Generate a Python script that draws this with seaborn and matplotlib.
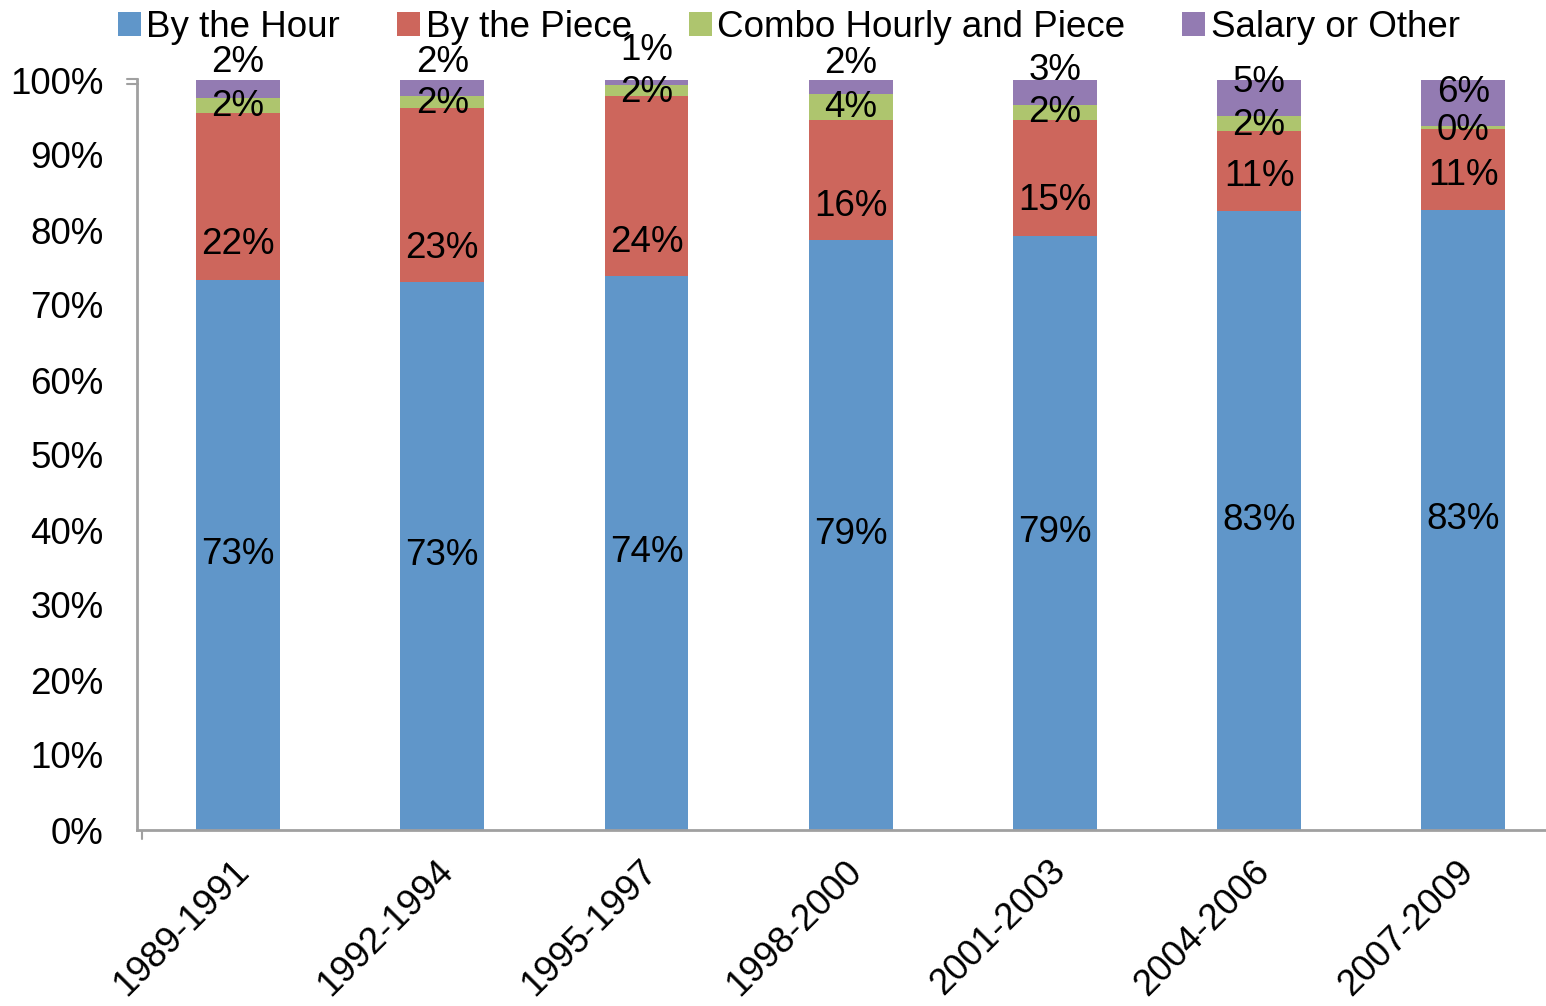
import numpy as np
import pandas as pd
import seaborn as sns
import matplotlib.pyplot as plt
import matplotlib.transforms as mtransforms
from matplotlib.patches import Patch

# dati (%)
periodi = ["1989-1991", "1992-1994", "1995-1997", "1998-2000",
           "2001-2003", "2004-2006", "2007-2009"]
by_hour = [73.4, 73.1, 73.9, 78.7, 79.2, 82.6, 82.7]
by_piece = [22.2, 23.2, 23.9, 15.9, 15.4, 10.6, 10.8]
combo = [2.0, 1.6, 1.6, 3.6, 2.1, 2.0, 0.4]
salary = [2.4, 2.1, 0.6, 1.8, 3.3, 4.8, 6.1]

serie = ["By the Hour", "By the Piece", "Combo Hourly and Piece", "Salary or Other"]
colori = ["#6096C9", "#CD665C", "#AEC56E", "#937BB2"]

# posizione verticale delle etichette (in %), come nell'originale
label_y_piece = [78.0, 77.6, 78.4, 83.2, 83.9, 87.1, 87.3]
label_y_combo = [96.5, 96.9, 98.3, 96.3, 95.6, 93.9, 93.3]
label_y_salary = [102.3, 102.4, 104.0, 102.2, 101.3, 99.6, 98.4]

df = pd.DataFrame({"Periodo": periodi, serie[0]: by_hour, serie[1]: by_piece,
                   serie[2]: combo, serie[3]: salary})
cum = df[serie].cumsum(axis=1)

sns.set_style("white")
plt.rcParams["font.family"] = ["Liberation Sans", "DejaVu Sans"]
plt.rcParams["text.color"] = "black"
plt.rcParams["xtick.color"] = "black"
plt.rcParams["ytick.color"] = "black"

FS = 26.5

fig = plt.figure(figsize=(15.46, 10.06), dpi=100)
ax = fig.add_axes([137 / 1546, 176 / 1006, 1 - 137 / 1546, 750 / 1006])

# barre impilate: dalla cumulata più alta alla più bassa
for s, c in zip(serie[::-1], colori[::-1]):
    sns.barplot(x=df["Periodo"], y=cum[s], color=c, width=0.41,
                saturation=1, ax=ax, linewidth=0)

ax.set_xlim(-0.495, 6.405)
ax.set_ylim(0, 100)
ax.set_yticks(np.arange(0, 101, 10))
ax.set_yticklabels([f"{v}%" for v in range(0, 101, 10)], fontsize=FS)
ax.tick_params(axis="y", length=0, pad=24)
ax.tick_params(axis="x", length=0, pad=17)
ax.set_xticks(range(len(periodi)))
ax.set_xticklabels(periodi, fontsize=FS, rotation=45, ha="right",
                   rotation_mode="anchor")
shift = mtransforms.ScaledTranslation(-7 / 100, 0, fig.dpi_scale_trans)
for lab in ax.get_xticklabels():
    lab.set_transform(lab.get_transform() + shift)
ax.set_xlabel("")
ax.set_ylabel("")

for sp in ["top", "right"]:
    ax.spines[sp].set_visible(False)
for sp in ["left", "bottom"]:
    ax.spines[sp].set_color("#A0A0A0")
    ax.spines[sp].set_linewidth(2)

# piccolo segno di interruzione asse
ax.plot([-0.545, -0.49], [100.1, 100.1], color="#A0A0A0", lw=1.5, clip_on=False)
ax.plot([-0.545, -0.49], [99.5, 99.5], color="#A0A0A0", lw=1.5, clip_on=False)
ax.plot([-0.47, -0.47], [-0.1, -1.2], color="#A0A0A0", lw=1.5, clip_on=False)

# etichette valori
for i in range(len(periodi)):
    kw = dict(ha="center", va="center", fontsize=FS, color="black", clip_on=False)
    ax.text(i, by_hour[i] / 2, f"{by_hour[i]:.0f}%", **kw)
    ax.text(i, label_y_piece[i], f"{by_piece[i]:.0f}%", **kw)
    ax.text(i, label_y_combo[i], f"{combo[i]:.0f}%", **kw)
    ax.text(i, label_y_salary[i], f"{salary[i]:.0f}%", **kw)

handles = [Patch(facecolor=c, edgecolor="none") for c in colori]
fig.legend(handles, serie, loc="upper left", bbox_to_anchor=(0.055, 1.023),
           ncol=4, frameon=False, fontsize=FS, handlelength=0.62,
           handleheight=0.62, handletextpad=0.15, columnspacing=1.55)

fig.savefig("out.png", dpi=100)
